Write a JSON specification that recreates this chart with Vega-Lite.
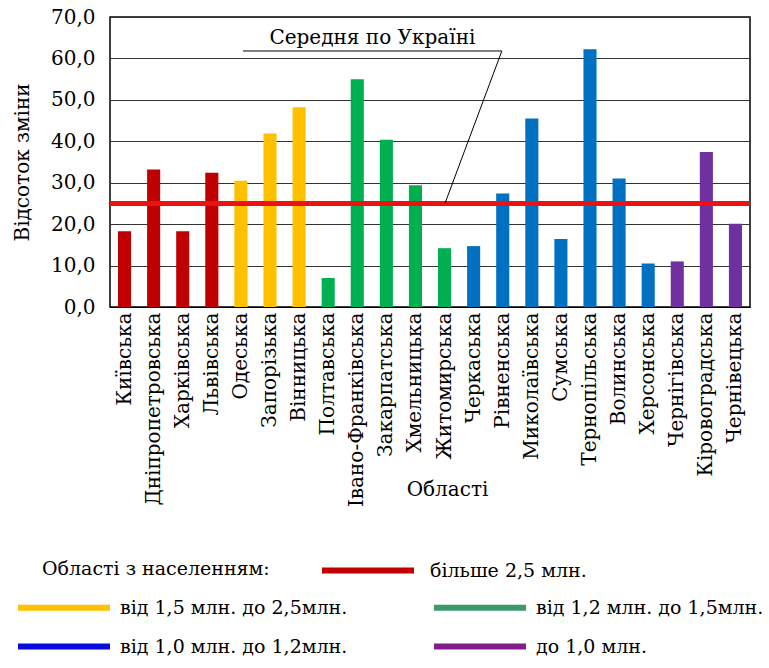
{
  "$schema": "https://vega.github.io/schema/vega-lite/v6.json",
  "width": 640,
  "height": 290,
  "autosize": {"type": "none"},
  "padding": {"left": 110, "top": 17, "right": 19, "bottom": 361},
  "background": "white",
  "config": {
    "font": "DejaVu Serif",
    "view": {"stroke": "#000000", "strokeWidth": 1.5},
    "axis": {
      "labelFont": "DejaVu Serif",
      "titleFont": "DejaVu Serif",
      "labelColor": "#000000",
      "titleColor": "#000000",
      "labelFontSize": 20,
      "titleFontSize": 20,
      "titleFontWeight": "normal",
      "ticks": false
    },
    "legend": {
      "labelFont": "DejaVu Serif",
      "titleFont": "DejaVu Serif",
      "labelFontSize": 19,
      "titleFontSize": 19,
      "titleFontWeight": "normal",
      "labelColor": "#000000",
      "titleColor": "#000000",
      "titleLimit": 400,
      "padding": 0
    },
    "text": {"font": "DejaVu Serif"}
  },
  "data": {
    "values": [
      {"region": "Київська", "value": 18.3, "group": "більше  2,5 млн."},
      {"region": "Дніпропетровська", "value": 33.2, "group": "більше  2,5 млн."},
      {"region": "Харківська", "value": 18.3, "group": "більше  2,5 млн."},
      {"region": "Львівська", "value": 32.4, "group": "більше  2,5 млн."},
      {"region": "Одеська", "value": 30.5, "group": "від  1,5 млн. до 2,5млн."},
      {"region": "Запорізька", "value": 41.9, "group": "від  1,5 млн. до 2,5млн."},
      {"region": "Вінницька", "value": 48.2, "group": "від  1,5 млн. до 2,5млн."},
      {"region": "Полтавська", "value": 7.0, "group": "від  1,2 млн. до 1,5млн."},
      {"region": "Івано-Франківська", "value": 55.0, "group": "від  1,2 млн. до 1,5млн."},
      {"region": "Закарпатська", "value": 40.4, "group": "від  1,2 млн. до 1,5млн."},
      {"region": "Хмельницька", "value": 29.4, "group": "від  1,2 млн. до 1,5млн."},
      {"region": "Житомирська", "value": 14.2, "group": "від  1,2 млн. до 1,5млн."},
      {"region": "Черкаська", "value": 14.7, "group": "від  1,0 млн. до 1,2млн."},
      {"region": "Рівненська", "value": 27.4, "group": "від  1,0 млн. до 1,2млн."},
      {"region": "Миколаївська", "value": 45.5, "group": "від  1,0 млн. до 1,2млн."},
      {"region": "Сумська", "value": 16.4, "group": "від  1,0 млн. до 1,2млн."},
      {"region": "Тернопільська", "value": 62.2, "group": "від  1,0 млн. до 1,2млн."},
      {"region": "Волинська", "value": 31.0, "group": "від  1,0 млн. до 1,2млн."},
      {"region": "Херсонська", "value": 10.5, "group": "від  1,0 млн. до 1,2млн."},
      {"region": "Чернігівська", "value": 11.0, "group": "до  1,0 млн."},
      {"region": "Кіровоградська", "value": 37.4, "group": "до  1,0 млн."},
      {"region": "Чернівецька", "value": 20.1, "group": "до  1,0 млн."}
    ]
  },
  "layer": [
    {
      "mark": {"type": "bar"},
      "encoding": {
        "x": {
          "field": "region",
          "type": "nominal",
          "sort": null,
          "scale": {"paddingInner": 0.55, "paddingOuter": 0.275},
          "axis": {
            "title": "Області",
            "labelAngle": -90,
            "labelPadding": 5,
            "labelLimit": 300,
            "domainColor": "#000000",
            "titleX": 337,
            "titleY": 172,
            "titleBaseline": "top"
          }
        },
        "y": {
          "field": "value",
          "type": "quantitative",
          "scale": {"domain": [0, 70], "nice": false},
          "axis": {
            "title": "Відсоток зміни",
            "values": [0, 10, 20, 30, 40, 50, 60, 70],
            "labelExpr": "replace(format(datum.value, '.1f'), '.', ',')",
            "labelPadding": 15,
            "domain": false,
            "gridColor": "#333333",
            "gridWidth": 1,
            "titleX": -88,
            "titleY": 145,
            "titleAlign": "center",
            "titleBaseline": "middle"
          }
        },
        "fill": {
          "field": "group",
          "type": "nominal",
          "scale": {
            "domain": ["більше  2,5 млн.", "від  1,5 млн. до 2,5млн.", "від  1,2 млн. до 1,5млн.", "від  1,0 млн. до 1,2млн.", "до  1,0 млн."],
            "range": ["#C00000", "#FFC000", "#00B050", "#0070C0", "#7030A0"]
          },
          "legend": null
        }
      }
    },
    {
      "data": {"values": [{"avg": 25}]},
      "mark": {"type": "rule", "color": "#EE1111", "strokeWidth": 5},
      "encoding": {"y": {"field": "avg", "type": "quantitative"}}
    },
    {
      "data": {"values": [{"label": "Середня по Україні"}]},
      "layer": [
        {
          "mark": {"type": "text", "fontSize": 20, "color": "#000000", "baseline": "middle", "align": "center"},
          "encoding": {
            "x": {"datum": 9.02, "type": "quantitative", "scale": {"domain": [0, 22], "nice": false, "zero": false}, "axis": null},
            "y": {"datum": 65.0},
            "text": {"field": "label"}
          }
        },
        {
          "mark": {"type": "rule", "color": "#000000", "strokeWidth": 1},
          "encoding": {
            "x": {"datum": 4.57, "type": "quantitative", "scale": {"domain": [0, 22], "nice": false, "zero": false}, "axis": null},
            "x2": {"datum": 13.47},
            "y": {"datum": 61.8},
            "y2": {"datum": 61.8}
          }
        },
        {
          "mark": {"type": "rule", "color": "#000000", "strokeWidth": 1},
          "encoding": {
            "x": {"datum": 13.47, "type": "quantitative", "scale": {"domain": [0, 22], "nice": false, "zero": false}, "axis": null},
            "x2": {"datum": 11.52},
            "y": {"datum": 61.8},
            "y2": {"datum": 25.1}
          }
        }
      ]
    },
    {
      "transform": [{"filter": "false"}],
      "mark": {"type": "rule"},
      "encoding": {
        "y": {"field": "value", "type": "quantitative"},
        "stroke": {
          "field": "group",
          "type": "nominal",
          "scale": {"domain": ["більше  2,5 млн."], "range": ["#C00000"]},
          "legend": {
            "orient": "none",
            "legendX": -68,
            "legendY": 539,
            "title": "Області з населенням:",
            "titleOrient": "left",
            "titleAngle": 0,
            "titleBaseline": "middle",
            "titlePadding": 49,
            "symbolType": "M-1,0H7",
            "symbolSize": 529,
            "symbolStrokeWidth": 6,
            "symbolFillColor": "transparent",
            "symbolOpacity": 1,
            "labelOffset": 82,
            "labelLimit": 400
          }
        }
      }
    },
    {
      "transform": [{"filter": "false"}],
      "mark": {"type": "rule"},
      "encoding": {
        "y": {"field": "value", "type": "quantitative"},
        "color": {
          "field": "group",
          "type": "nominal",
          "scale": {
            "domain": ["від  1,5 млн. до 2,5млн.", "від  1,0 млн. до 1,2млн.", "від  1,2 млн. до 1,5млн.", "до  1,0 млн."],
            "range": ["#FFC000", "#0A0AE0", "#3A9A6C", "#801F8C"]
          },
          "legend": {
            "orient": "none",
            "legendX": -95,
            "legendY": 576,
            "title": null,
            "columns": 2,
            "columnPadding": 68,
            "rowPadding": 12,
            "symbolType": "M-1,0H7",
            "symbolSize": 529,
            "symbolStrokeWidth": 6,
            "symbolFillColor": "transparent",
            "symbolOpacity": 1,
            "labelOffset": 76,
            "labelLimit": 400
          }
        }
      }
    }
  ],
  "resolve": {"scale": {"x": "independent"}, "axis": {"x": "independent"}}
}
